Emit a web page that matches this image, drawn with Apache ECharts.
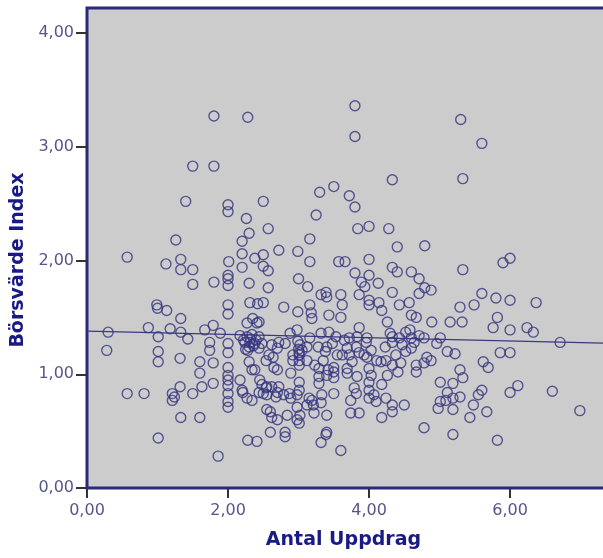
<!DOCTYPE html>
<html>
<head>
<meta charset="utf-8">
<title>Börsvärde Index vs Antal Uppdrag</title>
<script src="https://cdn.jsdelivr.net/npm/echarts@6/dist/echarts.min.js"></script>
<style>
  html, body { margin: 0; padding: 0; background: #fff; }
  #chart { width: 603px; height: 558px; }
</style>
</head>
<body>
<div id="chart"></div>
<script>
// [Antal Uppdrag, Börsvärde Index]
var points = [
  [1.80, 3.27], [2.28, 3.26], [1.50, 2.83], [1.80, 2.83], [1.40, 2.52], [2.00, 2.49], [2.00, 2.43], [2.26, 2.37],
  [2.50, 2.52], [2.57, 2.28], [1.26, 2.18], [2.30, 2.24], [2.20, 2.17], [2.72, 2.09], [2.99, 2.08], [0.57, 2.03],
  [1.12, 1.97], [1.33, 2.01], [1.33, 1.92], [1.50, 1.92], [2.01, 1.99], [2.20, 2.06], [2.20, 1.94], [2.38, 2.02],
  [2.50, 2.05], [2.50, 1.95], [2.57, 1.91], [2.00, 1.87], [2.00, 1.84], [2.00, 1.78], [1.50, 1.79], [1.80, 1.81],
  [2.30, 1.80], [3.80, 3.36], [3.80, 3.09], [5.30, 3.24], [5.60, 3.03], [4.33, 2.71], [5.33, 2.72], [3.30, 2.60],
  [3.50, 2.65], [3.72, 2.57], [3.80, 2.47], [3.25, 2.40], [3.84, 2.28], [4.00, 2.30], [4.28, 2.28], [3.16, 2.19],
  [4.40, 2.12], [4.79, 2.13], [3.16, 1.99], [3.57, 1.99], [3.66, 1.99], [4.00, 2.01], [4.33, 1.94], [4.40, 1.90],
  [4.60, 1.90], [5.33, 1.92], [5.90, 1.98], [6.00, 2.02], [3.80, 1.89], [4.00, 1.87],
  [4.71, 1.84], [3.00, 1.84], [3.13, 1.77], [2.57, 1.76], [3.89, 1.81], [4.13, 1.80], [4.33, 1.72], [4.71, 1.71],
  [4.79, 1.76], [3.39, 1.72], [3.32, 1.70], [3.40, 1.68], [3.60, 1.70], [3.86, 1.70], [4.00, 1.65], [2.79, 1.59],
  [4.14, 1.63], [4.43, 1.61], [4.57, 1.63], [4.88, 1.74], [5.60, 1.71], [5.80, 1.67], [6.00, 1.65], [6.37, 1.63],
  [5.29, 1.59], [5.49, 1.61], [0.99, 1.61], [1.00, 1.58], [1.13, 1.56], [2.00, 1.61], [2.00, 1.53], [2.31, 1.63],
  [2.42, 1.62], [2.50, 1.63],
  [0.30, 1.37], [0.28, 1.21], [0.57, 0.83], [0.81, 0.83], [1.01, 0.44], [0.87, 1.41], [1.33, 1.49], [1.18, 1.40],
  [1.33, 1.37], [1.43, 1.31], [1.01, 1.33], [1.01, 1.20], [1.01, 1.11], [1.32, 1.14], [1.21, 0.83], [1.21, 0.77],
  [1.24, 0.80], [1.32, 0.89], [1.33, 0.62], [1.60, 0.62], [1.50, 0.83], [1.60, 1.01], [1.63, 0.89], [1.79, 0.92],
  [1.79, 1.10], [1.60, 1.11], [1.86, 0.28], [1.67, 1.39], [1.79, 1.43], [1.89, 1.36], [1.74, 1.28], [1.74, 1.21],
  [2.00, 1.27], [2.00, 1.19], [2.00, 1.06], [2.00, 0.99], [2.00, 0.95], [2.00, 0.90], [2.00, 0.83], [2.00, 0.76],
  [2.00, 0.71],
  [2.17, 1.34], [2.24, 1.28], [2.31, 1.28], [2.38, 1.27], [2.28, 1.21], [2.35, 1.49], [2.41, 1.45], [2.27, 1.45],
  [2.17, 0.95], [2.34, 1.04], [2.38, 1.04], [2.21, 0.84], [2.27, 0.79], [2.45, 0.95], [2.55, 0.89], [2.50, 0.83],
  [2.55, 0.82], [2.70, 0.84], [2.70, 1.04], [2.64, 1.15], [2.81, 1.27], [2.70, 1.23], [2.92, 1.12], [2.88, 1.36],
  [2.98, 1.39], [2.99, 1.55], [2.60, 0.67], [2.55, 0.69], [2.84, 0.64], [2.70, 0.60], [2.60, 0.49], [2.81, 0.49],
  [2.81, 0.45], [2.28, 0.42], [2.41, 0.41], [2.98, 0.82], [2.98, 0.71], [2.98, 0.60], [2.92, 1.17], [2.20, 0.86],
  [2.34, 0.77], [2.30, 1.11], [2.22, 1.30], [2.27, 1.33], [2.32, 1.31], [2.36, 1.25], [2.30, 1.24], [2.25, 1.22],
  [2.34, 1.35], [2.40, 1.30],
  [3.19, 1.49], [3.18, 1.54], [3.43, 1.52], [3.60, 1.50], [3.62, 1.61], [4.00, 1.61], [4.18, 1.56], [4.26, 1.46],
  [4.60, 1.52], [4.67, 1.50], [2.44, 1.46], [2.44, 1.33], [2.44, 1.23], [2.48, 1.27], [2.72, 1.28], [2.62, 1.26],
  [2.54, 1.12], [2.65, 1.06], [2.58, 1.17], [3.01, 1.17], [3.01, 1.12], [3.01, 1.08], [3.12, 1.12], [3.05, 1.21],
  [3.32, 1.36], [3.43, 1.37], [3.53, 1.33], [3.65, 1.30], [3.72, 1.32], [3.86, 1.41], [3.83, 1.33], [3.96, 1.28],
  [3.82, 1.24], [3.69, 1.23], [3.62, 1.17], [3.72, 1.17], [3.86, 1.19], [3.76, 1.11], [3.93, 1.17], [4.03, 1.21],
  [4.11, 1.12], [4.17, 1.11], [4.24, 1.12], [4.33, 1.28], [4.33, 1.33], [4.43, 1.32], [4.52, 1.37], [4.60, 1.32],
  [4.64, 1.28], [4.71, 1.34], [4.78, 1.32], [4.47, 1.26], [4.52, 1.20], [4.60, 1.23], [4.38, 1.17], [4.33, 1.08],
  [4.45, 1.10], [4.67, 1.08], [4.67, 1.02], [4.78, 1.10], [4.26, 0.99], [4.18, 0.91], [4.03, 0.99], [4.00, 1.05],
  [4.00, 0.93], [4.00, 0.86], [4.00, 0.79], [4.07, 0.82], [4.10, 0.76], [4.24, 0.79], [3.83, 0.98], [3.79, 0.88],
  [3.82, 0.83], [3.74, 0.77], [3.50, 0.83], [3.50, 0.97], [3.50, 1.02], [3.50, 1.06], [3.40, 0.99], [3.29, 1.05],
  [3.29, 0.98], [3.29, 0.92], [3.33, 0.82], [3.32, 0.75], [3.19, 0.77], [3.15, 0.79], [3.12, 0.73], [3.01, 0.93],
  [3.01, 0.86], [2.89, 1.01], [2.87, 0.83], [2.79, 0.82], [2.72, 0.89], [2.62, 0.89], [2.54, 0.88], [2.48, 0.91],
  [2.44, 0.84], [2.68, 0.80], [2.89, 0.79], [2.62, 0.62], [3.22, 0.66], [3.40, 0.64], [3.74, 0.66], [3.86, 0.66],
  [4.18, 0.62], [4.33, 0.67], [4.33, 0.73], [4.50, 0.73], [3.01, 0.57], [3.32, 0.40], [3.39, 0.47], [3.40, 0.49],
  [3.60, 0.33], [4.78, 0.53], [3.01, 1.19], [3.00, 1.22], [3.02, 1.26], [2.99, 1.29],
  [3.94, 1.77], [4.89, 1.46], [5.15, 1.46], [5.32, 1.46], [5.82, 1.50], [5.76, 1.41], [6.00, 1.39], [6.24, 1.41],
  [6.33, 1.37], [6.71, 1.28], [5.86, 1.19], [6.00, 1.19], [5.62, 1.11], [5.69, 1.06], [5.11, 1.20], [5.22, 1.18],
  [5.01, 1.32], [4.96, 1.27], [3.16, 1.61], [5.29, 1.04], [5.33, 0.97], [5.01, 0.93], [5.11, 0.84], [5.01, 0.76],
  [4.98, 0.70], [5.19, 0.79], [5.19, 0.69], [5.29, 0.80], [5.60, 0.86], [5.55, 0.82], [5.48, 0.73], [5.67, 0.67],
  [5.43, 0.62], [5.19, 0.47], [5.82, 0.42], [6.00, 0.84], [6.11, 0.90], [6.60, 0.85], [6.99, 0.68], [3.21, 0.73],
  [3.02, 0.64], [3.69, 1.01], [3.69, 1.05], [3.55, 1.17], [4.82, 1.15], [4.41, 1.02], [4.58, 1.39], [4.30, 1.36],
  [4.23, 1.24], [3.97, 1.32], [3.97, 1.15], [3.48, 1.27], [3.40, 1.24], [3.38, 1.20], [3.28, 1.24], [3.16, 1.32],
  [3.12, 1.24], [3.23, 1.08], [3.35, 1.12], [3.42, 1.04], [5.19, 0.92], [5.09, 0.77], [4.88, 1.12]
]

// fit line (linear) as drawn in the picture
var fitLine = [[0, 1.38], [7.46, 1.272]]

var xTicks = [0, 2, 4, 6]
var yTicks = [0, 1, 2, 3, 4]

function fmt(v) {
  return v.toFixed(2).replace('.', ',')
}

var navy = '#2a2a7c'
var labelColor = '#56568c'
var titleColor = '#1a1a86'

var chart = echarts.init(document.getElementById('chart'))
chart.setOption({
  animation: false,
  backgroundColor: '#ffffff',
  grid: {
    left: 87,
    top: 8,
    bottom: 70,
    right: -10,
    outerBoundsMode: 'none',
    containLabel: false,
    show: true,
    backgroundColor: '#cccccc',
    borderColor: navy,
    borderWidth: 3
  },
  xAxis: {
    type: 'value',
    min: 0,
    max: 7.46,
    interval: 2,
    name: 'Antal Uppdrag',
    nameLocation: 'middle',
    nameGap: 43,
    nameTextStyle: {
      color: titleColor,
      fontFamily: 'DejaVu Sans',
      fontWeight: 'bold',
      fontSize: 19,
      padding: [0, 13, 0, 0]
    },
    axisLine: { show: false },
    axisTick: {
      show: true,
      length: 10,
      customValues: xTicks,
      lineStyle: { color: '#333333', width: 2 }
    },
    axisLabel: {
      customValues: xTicks,
      color: labelColor,
      fontFamily: 'DejaVu Sans',
      fontSize: 16,
      margin: 15,
      formatter: fmt
    },
    splitLine: { show: false }
  },
  yAxis: {
    type: 'value',
    min: 0,
    max: 4.22,
    interval: 1,
    name: 'Börsvärde Index',
    nameLocation: 'middle',
    nameRotate: 90,
    nameGap: 57,
    nameTextStyle: {
      color: titleColor,
      fontFamily: 'DejaVu Sans',
      fontWeight: 'bold',
      fontSize: 19,
      padding: [0, 24, 0, 0]
    },
    axisLine: { show: false },
    axisTick: {
      show: true,
      length: 11,
      customValues: yTicks,
      lineStyle: { color: '#333333', width: 2 }
    },
    axisLabel: {
      customValues: yTicks,
      color: labelColor,
      fontFamily: 'DejaVu Sans',
      fontSize: 16,
      margin: 13,
      formatter: fmt
    },
    splitLine: { show: false }
  },
  series: [
    {
      type: 'scatter',
      data: points,
      symbol: 'circle',
      symbolSize: 10,
      itemStyle: {
        color: 'rgba(0,0,0,0)',
        borderColor: '#34347f',
        borderWidth: 1.4
      }
    },
    {
      type: 'line',
      data: fitLine,
      symbol: 'none',
      lineStyle: { color: '#3a3a80', width: 1.3 },
      z: 1
    }
  ]
})
</script>
</body>
</html>
